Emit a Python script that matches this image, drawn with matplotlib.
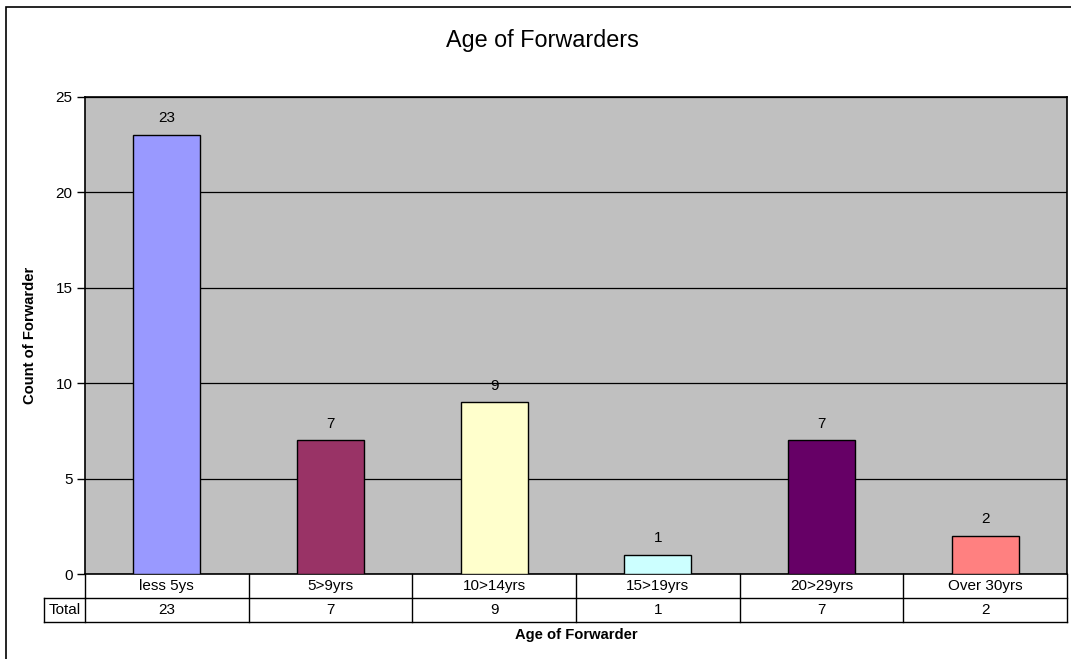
import matplotlib
matplotlib.use("Agg")
import matplotlib.pyplot as plt
from matplotlib.patches import Rectangle
from matplotlib.lines import Line2D

plt.rcParams['font.family'] = ['Liberation Sans', 'DejaVu Sans']

categories = ["less 5ys", "5>9yrs", "10>14yrs", "15>19yrs", "20>29yrs", "Over 30yrs"]
counts = [23, 7, 9, 1, 7, 2]
bar_colors = ["#9999FF", "#993366", "#FFFFCC", "#CCFFFF", "#660066", "#FF8080"]
y_ticks = [0, 5, 10, 15, 20, 25]
row_label = "Total"

W, H = 1071, 659
fig = plt.figure(figsize=(W / 100, H / 100), dpi=100)
fig.patch.set_facecolor("white")

# outer chart frame
fig.add_artist(Rectangle((6 / W, -0.05), 1.2, 1 - 7 / H + 0.05, transform=fig.transFigure,
                         fill=False, edgecolor="black", linewidth=1.2))

left, right, top, bottom = 85, 1067, 97, 574
ax = fig.add_axes([left / W, 1 - bottom / H, (right - left) / W, (bottom - top) / H])
ax.set_facecolor("#C0C0C0")

fs = 11
x = list(range(len(categories)))
bars = ax.bar(x, counts, width=0.41, color=bar_colors, edgecolor="black", linewidth=1, zorder=3)
for xi, v in zip(x, counts):
    ax.annotate(str(v), (xi, v), xytext=(0, 7), textcoords="offset points",
                ha="center", va="bottom", fontsize=fs)

ax.set_xlim(-0.5, len(categories) - 0.5)
ax.set_ylim(0, 25)
ax.set_yticks(y_ticks)
ax.set_yticklabels([str(t) for t in y_ticks], fontsize=fs)
ax.tick_params(axis="y", direction="out", length=6, width=1, pad=3)
ax.set_xticks([])
ax.yaxis.grid(True, color="black", linewidth=0.9, zorder=1)
for s in ax.spines.values():
    s.set_linewidth(1.2)
    s.set_color("black")
ax.set_axisbelow(True)

# data table beneath the plot area
row_h = 24 / (bottom - top)
trans = ax.get_xaxis_transform()
n = len(categories)
label_left = -0.5 - (left - 44) / ((right - left) / n)
lines = [
    ((-0.5, n - 0.5), (-row_h, -row_h)),
    ((label_left, n - 0.5), (-2 * row_h, -2 * row_h)),
    ((label_left, -0.5), (-row_h, -row_h)),
    ((label_left, label_left), (-row_h, -2 * row_h)),
]
for i in range(n + 1):
    xb = -0.5 + i
    lines.append(((xb, xb), (0, -2 * row_h)))
for xs, ys in lines:
    ax.add_line(Line2D(xs, ys, transform=trans, color="black", linewidth=1, clip_on=False))

for xi, (c, v) in enumerate(zip(categories, counts)):
    ax.text(xi, -0.5 * row_h, c, transform=trans, ha="center", va="center", fontsize=fs)
    ax.text(xi, -1.5 * row_h, str(v), transform=trans, ha="center", va="center", fontsize=fs)
ax.text((label_left - 0.5) / 2, -1.5 * row_h, row_label, transform=trans,
        ha="center", va="center", fontsize=fs)

fig.text(542 / W, 1 - 41 / H, "Age of Forwarders", ha="center", va="center", fontsize=16.8)
fig.text(30 / W, 1 - 335.5 / H, "Count of Forwarder", ha="center", va="center",
         rotation=90, fontsize=10.6, fontweight="bold")
fig.text(576 / W, 1 - 635 / H, "Age of Forwarder", ha="center", va="center",
         fontsize=10.6, fontweight="bold")

fig.savefig("out.png", dpi=100)
